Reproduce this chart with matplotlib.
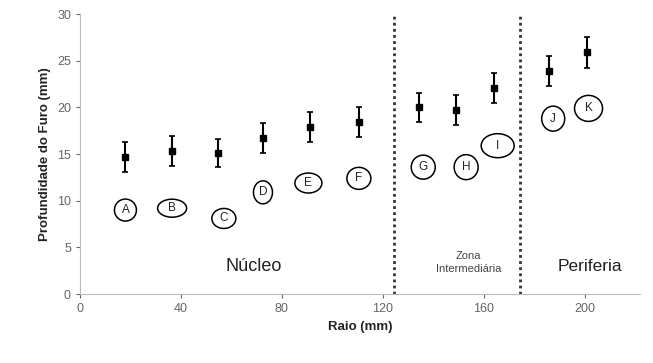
import matplotlib.pyplot as plt
from matplotlib.patches import Ellipse

plt.rcParams["font.family"] = ["Liberation Sans", "DejaVu Sans"]

# data
raio = [18, 36.5, 54.5, 72.5, 91, 110.5, 134.5, 149, 164, 186, 201]
prof = [14.7, 15.3, 15.1, 16.7, 17.9, 18.4, 20.0, 19.7, 22.1, 23.9, 25.9]
erro = [1.6, 1.6, 1.5, 1.6, 1.6, 1.6, 1.6, 1.6, 1.6, 1.6, 1.7]
letras = ["A", "B", "C", "D", "E", "F", "G", "H", "I", "J", "K"]
letra_x = [18, 36.5, 57, 72.5, 90.5, 110.5, 136, 153, 165.5, 187.5, 201.5]
letra_y = [9.0, 9.2, 8.1, 10.9, 11.9, 12.4, 13.6, 13.6, 15.9, 18.8, 19.9]
limites = [124.5, 174.5]

# hand-drawn ellipse sizes (pixels)
ell_w = [22, 29, 24, 19, 27, 24, 24, 24, 33, 23, 28]
ell_h = [22, 18, 20, 23, 20, 22, 24, 25, 24, 25, 26]

fig = plt.figure(figsize=(6.53, 3.63), dpi=100)
ax = fig.add_axes([0.1225, 0.19, 0.858, 0.771])
ax.set_xlim(0, 222)
ax.set_ylim(0, 30)

ax.errorbar(raio, prof, yerr=erro, fmt="s", color="black", ms=4,
            elinewidth=1.5, capsize=2.5, capthick=1.2)

# pixel -> data scale
sx = 222 / (0.858 * 653)
sy = 30 / (0.771 * 363)
for lx, ly, t, w, h in zip(letra_x, letra_y, letras, ell_w, ell_h):
    ax.add_patch(Ellipse((lx, ly), w * sx, h * sy, fc="white", ec="black", lw=1.1))
    ax.text(lx, ly, t, ha="center", va="center", fontsize=8.5, color="#222222")

for b in limites:
    ax.plot([b, b], [0, 30], ls=(0, (1, 1.2)), color="#333333", lw=2)

ax.text(69, 2.9, "Núcleo", ha="center", va="center", fontsize=13, color="#222222")
ax.text(154, 3.4, "Zona\nIntermediária", ha="center", va="center", fontsize=8,
        color="#444444", linespacing=1.4)
ax.text(202, 3.0, "Periferia", ha="center", va="center", fontsize=12.5, color="#222222")

ax.set_xticks([0, 40, 80, 120, 160, 200])
ax.set_yticks([0, 5, 10, 15, 20, 25, 30])
ax.tick_params(colors="#666666", labelsize=9, length=3, width=0.8)
for s in ["top", "right"]:
    ax.spines[s].set_visible(False)
for s in ["left", "bottom"]:
    ax.spines[s].set_color("#bbbbbb")

ax.set_xlabel("Raio (mm)", fontsize=9.5, fontweight="bold", color="#222222")
ax.set_ylabel("Profundidade do Furo (mm)", fontsize=9.5, fontweight="bold", color="#222222")

fig.savefig("out.png", dpi=100)
